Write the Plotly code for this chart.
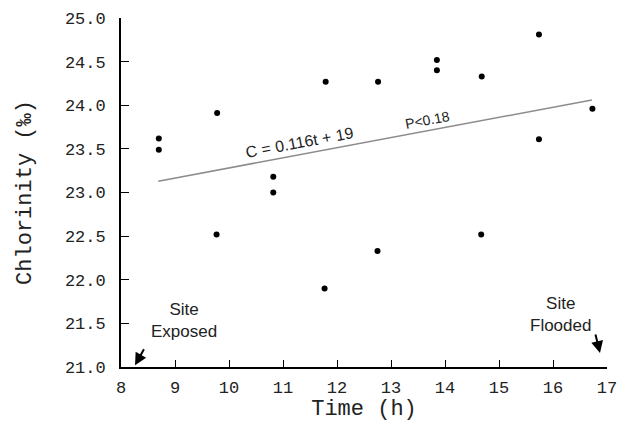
import plotly.graph_objects as go

# Data
time_h = [8.70, 8.70, 9.78, 9.77, 10.82, 10.82, 11.79, 11.77, 12.76, 12.75,
          13.85, 13.85, 14.68, 14.67, 15.74, 15.74, 16.73]
chlorinity = [23.62, 23.49, 23.91, 22.52, 23.18, 23.00, 24.27, 21.90, 24.27, 22.33,
              24.52, 24.40, 24.33, 22.52, 24.81, 23.61, 23.96]
fit_x = [8.69, 16.72]
fit_y = [23.13, 24.06]
x_ticks = [8, 9, 10, 11, 12, 13, 14, 15, 16, 17]
y_ticks = [21.0, 21.5, 22.0, 22.5, 23.0, 23.5, 24.0, 24.5, 25.0]
y_tick_labels = ["21.0", "21.5", "22.0", "22.5", "23.0", "23.5", "24.0", "24.5", "25.0"]

mono = "Liberation Mono"
sans = "Liberation Sans"

fig = go.Figure()
fig.add_trace(go.Scatter(x=fit_x, y=fit_y, mode="lines",
                         line=dict(color="#8c8c8c", width=1.5), hoverinfo="skip"))
fig.add_trace(go.Scatter(x=time_h, y=chlorinity, mode="markers",
                         marker=dict(color="black", size=6)))

annots = [
    dict(x=11.31, y=23.57, text="C = 0.116t + 19", textangle=-10.5,
         font=dict(family=sans, size=16, color="#222")),
    dict(x=13.67, y=23.83, text="P<0.18", textangle=-10.5,
         font=dict(family=sans, size=14, color="#222")),
    dict(x=9.17, y=21.53, text="Site<br>Exposed",
         font=dict(family=sans, size=17, color="#222")),
    dict(x=16.13, y=21.60, text="Site<br>Flooded",
         font=dict(family=sans, size=17, color="#222")),
]
for a in annots:
    fig.add_annotation(xref="x", yref="y", showarrow=False, **a)

# arrows
fig.add_annotation(x=8.26, y=21.02, ax=8.44, ay=21.22, xref="x", yref="y",
                   axref="x", ayref="y", text="", showarrow=True,
                   arrowhead=2, arrowsize=1.2, arrowwidth=2, arrowcolor="black")
fig.add_annotation(x=16.87, y=21.16, ax=16.78, ay=21.39, xref="x", yref="y",
                   axref="x", ayref="y", text="", showarrow=True,
                   arrowhead=2, arrowsize=1.2, arrowwidth=2, arrowcolor="black")

fig.update_layout(
    width=615, height=414,
    margin=dict(l=113, r=16, t=10, b=55),
    plot_bgcolor="white", paper_bgcolor="white",
    showlegend=False,
    xaxis=dict(range=[8, 17], tickvals=x_ticks, ticks="inside", ticklen=7,
               tickwidth=1.2, tickcolor="black", showline=True, linecolor="black",
               linewidth=1.8, showgrid=False, zeroline=False, automargin=False,
               ticklabelstandoff=4,
               tickfont=dict(family=mono, size=17, color="#222"),
               title=dict(text="Time (h)", font=dict(family=mono, size=22, color="#222"),
                          standoff=1)),
    yaxis=dict(range=[21, 25], tickvals=y_ticks, ticktext=y_tick_labels,
               ticks="inside", ticklen=8, tickwidth=1.2, tickcolor="black",
               showline=True, linecolor="black", linewidth=1.8, showgrid=False,
               zeroline=False, automargin=False, ticklabelstandoff=10,
               tickfont=dict(family=mono, size=17, color="#222"),
               title=dict(text="Chlorinity (‰)", font=dict(family=mono, size=22, color="#222"),
                          standoff=27)),
)

fig.write_html("out.html")
